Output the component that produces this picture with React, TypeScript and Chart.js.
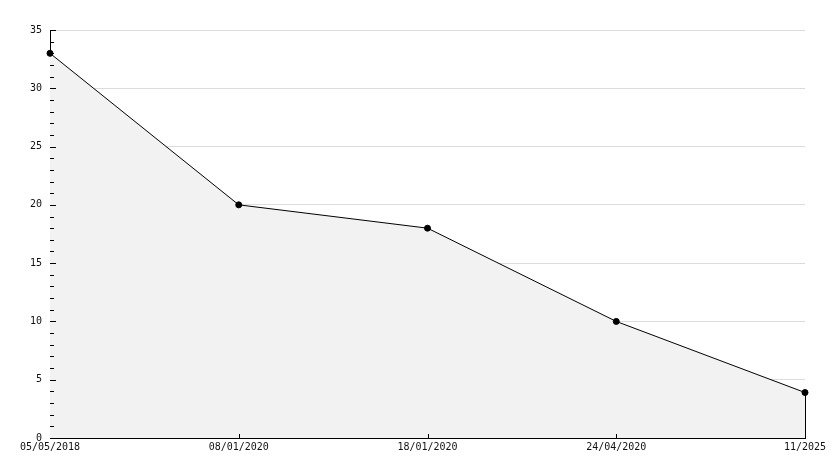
import React, { useEffect, useRef } from "react";
import { Chart, registerables } from "chart.js";

Chart.register(...registerables);

const categories = ["05/05/2018", "08/01/2020", "18/01/2020", "24/04/2020", "11/2025"];
const values = [33, 20, 18, 10, 3.9];
const yMin = 0;
const yMax = 35;
const yMajorStep = 5;
const yMinorStep = 1;

const FONT = "'DejaVu Sans Mono', monospace";

const axisDecor = {
  id: "axisDecor",
  afterDatasetsDraw(chart: any) {
    const { ctx, chartArea, scales } = chart;
    const y = scales.y;
    const x = scales.x;
    ctx.save();
    ctx.strokeStyle = "#000";
    ctx.lineWidth = 1;
    ctx.beginPath();
    for (let v = yMin; v <= yMax; v += yMinorStep) {
      const py = Math.round(y.getPixelForValue(v)) + 0.5;
      const len = v % yMajorStep === 0 ? 6 : 4;
      ctx.moveTo(chartArea.left, py);
      ctx.lineTo(chartArea.left + len, py);
    }
    const bottom = y.getPixelForValue(0);
    for (let i = 1; i < categories.length - 1; i++) {
      const px = Math.round(x.getPixelForValue(i)) + 0.5;
      ctx.moveTo(px, bottom);
      ctx.lineTo(px, bottom - 4);
    }
    // right vertical edge of the filled area
    const meta = chart.getDatasetMeta(0);
    const last = meta.data[meta.data.length - 1];
    const px = Math.round(last.x) + 0.5;
    ctx.moveTo(px, last.y);
    ctx.lineTo(px, bottom);
    ctx.stroke();
    ctx.restore();
  },
};

export default function App() {
  const ref = useRef<HTMLCanvasElement | null>(null);
  useEffect(() => {
    document.body.style.margin = "0";
    const chart = new Chart(ref.current!, {
      type: "line",
      data: {
        labels: categories,
        datasets: [
          {
            data: values,
            borderColor: "#000",
            borderWidth: 1,
            backgroundColor: "#f2f2f2",
            fill: "origin",
            pointRadius: 3,
            pointBackgroundColor: "#000",
            pointBorderColor: "#000",
            pointBorderWidth: 1,
            tension: 0,
          },
        ],
      },
      options: {
        animation: false,
        responsive: false,
        maintainAspectRatio: false,
        layout: { padding: { top: 30, right: 29, left: 0, bottom: 0 } },
        plugins: { legend: { display: false }, tooltip: { enabled: false } },
        scales: {
          x: {
            type: "category",
            offset: false,
            grid: { display: false, drawTicks: false },
            border: { display: true, color: "#000", width: 1 },
            ticks: {
              color: "#111",
              font: { family: FONT, size: 10 },
              padding: 3,
              maxRotation: 0,
              autoSkip: false,
            },
            afterFit(scale: any) {
              scale.height = 30;
            },
          },
          y: {
            min: yMin,
            max: yMax,
            grid: { color: "#dcdcdc", drawTicks: false, lineWidth: 1 },
            border: { display: true, color: "#000", width: 1 },
            ticks: {
              stepSize: yMajorStep,
              color: "#111",
              font: { family: FONT, size: 10 },
              padding: 8,
            },
            afterFit(scale: any) {
              scale.width = 50;
            },
          },
        },
      },
      plugins: [axisDecor],
    } as any);
    return () => chart.destroy();
  }, []);
  return (
    <div style={{ width: 834, height: 468, background: "#fff" }}>
      <canvas ref={ref} width={834} height={468} style={{ display: "block" }} />
    </div>
  );
}
